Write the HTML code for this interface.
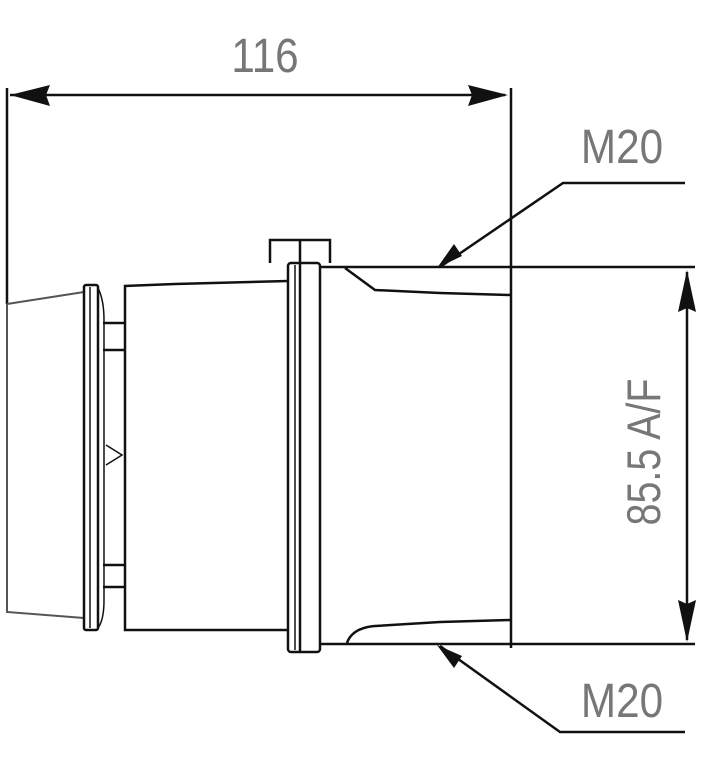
<!DOCTYPE html>
<html><head><meta charset="utf-8"><style>
html,body{margin:0;padding:0;background:#fff;width:715px;height:760px;overflow:hidden}
</style></head><body>
<svg width="715" height="760" viewBox="0 0 715 760" xmlns="http://www.w3.org/2000/svg">
<g fill="none" stroke="#111" stroke-width="2.5">
<line x1="7" y1="88" x2="7" y2="304"/>
<line x1="511" y1="88" x2="511" y2="648"/>
<line x1="10" y1="95" x2="505" y2="95"/>
<path d="M7,304 L84,292 M7,304 L7,612 L84,618" stroke="#555" stroke-width="2"/>
<rect x="84" y="285" width="14" height="345" rx="2"/>
<line x1="90" y1="287" x2="90" y2="628" stroke-width="1.5"/>
<path d="M98,288 Q104,300 104,320 L104,600 Q104,620 98,628" stroke-width="1.5"/>
<line x1="103" y1="323" x2="125" y2="323"/>
<line x1="103" y1="350" x2="125" y2="350"/>
<line x1="103" y1="565" x2="125" y2="565"/>
<line x1="103" y1="587" x2="125" y2="587"/>
<path d="M106,445 L122,455 L106,465" stroke-width="1.5"/>
<path d="M288,281 L175,284 L125,286 L125,630 L288,630"/>
<path d="M270,263 L270,240 L330,240 L330,263"/>
<line x1="300" y1="240" x2="300" y2="652"/>
<rect x="288" y="263" width="32" height="389" rx="3"/>
<line x1="295" y1="265" x2="295" y2="650" stroke-width="1.5"/>
<line x1="320" y1="267" x2="695" y2="267"/>
<line x1="320" y1="644" x2="695" y2="644"/>
<path d="M345,268 L375,290 L440,293 L511,295"/>
<path d="M347,643 Q352,628 375,626 L440,622 L511,620"/>
<path d="M440,267 L563,183 L685,183"/>
<path d="M440,646 L560,732 L685,732"/>
<line x1="687" y1="272" x2="687" y2="640"/>
</g>
<g fill="#111" stroke="none">
<polygon points="10,95 50,85 46,95 50,106"/>
<polygon points="508,95 468,85 472,95 468,106"/>
<polygon points="437,268 454,244 462,256"/>
<polygon points="437,645 462,656 454,668"/>
<polygon points="687,270 678,312 687,308 696,312"/>
<polygon points="687,642 678,600 687,604 696,600"/>
</g>
<g fill="#777" font-family="Liberation Sans, sans-serif" font-size="48">
<text x="0" y="0" transform="translate(265,72) scale(0.88,1)" text-anchor="middle">116</text>
<text x="0" y="0" transform="translate(622,163) scale(0.88,1)" text-anchor="middle">M20</text>
<text x="0" y="0" transform="translate(622,717) scale(0.88,1)" text-anchor="middle">M20</text>
<text x="0" y="0" transform="translate(660,452) rotate(-90) scale(0.84,1)" text-anchor="middle" font-size="47">85.5 A/F</text>
</g>
</svg>
</body></html>
